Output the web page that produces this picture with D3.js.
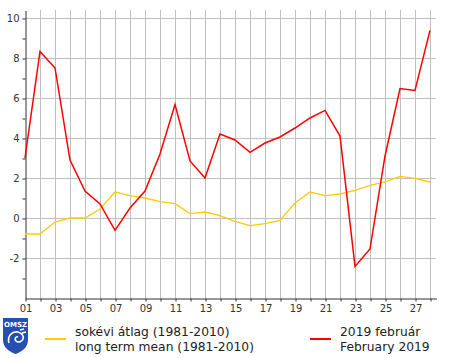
<!DOCTYPE html>
<html>
<head>
<meta charset="utf-8">
<script src="https://cdn.jsdelivr.net/npm/d3@7"></script>
<style>
  body { margin: 0; background: #fff; }
  text { font-family: "DejaVu Sans", Verdana, sans-serif; }
</style>
</head>
<body>
<div id="chart"></div>
<script>
// napok (február)
const days = d3.range(1, 29);
// sokévi átlag (1981-2010)
const meanTemp = [-0.8, -0.8, -0.2, 0.0, 0.0, 0.45, 1.3, 1.12, 1.0, 0.82,
  0.72, 0.22, 0.3, 0.12, -0.17, -0.38, -0.28, -0.12, 0.75, 1.3,
  1.12, 1.2, 1.38, 1.63, 1.8, 2.08, 1.98, 1.8];
// 2019 február
const febTemp = [3.0, 8.33, 7.5, 2.9, 1.35, 0.7, -0.62, 0.5, 1.35, 3.2,
  5.67, 2.85, 2.0, 4.2, 3.9, 3.28, 3.75, 4.05, 4.5, 5.0,
  5.38, 4.1, -2.42, -1.55, 3.1, 6.47, 6.38, 9.38];
const yLabels = [-2, 0, 2, 4, 6, 8, 10];

const width = 460, height = 358;
const svg = d3.select("#chart").append("svg")
  .attr("width", width)
  .attr("height", height);

const x = d3.scaleLinear().domain([1, 28.4]).range([25, 436]);
const y = d3.scaleLinear().domain([-4, 10.4]).range([298, 10]);

// rács
svg.append("g")
  .selectAll("line")
  .data(days.slice(1))
  .enter()
  .append("line")
  .attr("x1", d => x(d) + 0.5).attr("x2", d => x(d) + 0.5)
  .attr("y1", y.range()[1]).attr("y2", y.range()[0])
  .style("stroke", "#c0c0c0");

svg.append("g")
  .selectAll("line")
  .data(yLabels)
  .enter()
  .append("line")
  .attr("x1", x.range()[0]).attr("x2", x.range()[1])
  .attr("y1", d => Math.round(y(d)) + 0.5).attr("y2", d => Math.round(y(d)) + 0.5)
  .style("stroke", "#c0c0c0");

// tengelyek
const xAxis = d3.axisBottom(x)
  .tickValues(days)
  .tickSize(3)
  .tickSizeOuter(0)
  .tickFormat(d => d % 2 === 1 ? d3.format("02d")(d) : "");

const gx = svg.append("g")
  .attr("transform", "translate(0.5," + (Math.round(y(-4)) + 0.5) + ")")
  .call(xAxis);

const yAxis = d3.axisLeft(y)
  .tickValues(d3.range(-3, 11))
  .tickSize(3)
  .tickSizeOuter(0)
  .tickFormat(d => yLabels.includes(d) ? d : "");

const gy = svg.append("g")
  .attr("transform", "translate(" + (x(1) + 0.5) + ",0.5)")
  .call(yAxis);

[gx, gy].forEach(g => {
  g.select(".domain").style("stroke", "#333");
  g.selectAll(".tick line").style("stroke", "#333");
  g.selectAll(".tick text")
    .style("font-family", "DejaVu Sans")
    .style("font-size", "10px")
    .style("fill", "#333");
});
gx.selectAll(".tick text").attr("dy", "0.75em").attr("y", 6);
gy.selectAll(".tick text").attr("x", -6);

// vonalak
const line = d3.line()
  .x((d, i) => x(days[i]))
  .y(d => y(d));

svg.append("path")
  .datum(meanTemp)
  .attr("d", line)
  .style("fill", "none")
  .style("stroke", "#ffcc00")
  .style("stroke-width", 1.3);

svg.append("path")
  .datum(febTemp)
  .attr("d", line)
  .style("fill", "none")
  .style("stroke", "#ff0000")
  .style("stroke-width", 1.5);

// jelmagyarázat
const legend = [
  { color: "#ffcc00", x: 45, lines: ["sokévi átlag (1981-2010)", "long term mean (1981-2010)"] },
  { color: "#ff0000", x: 310, lines: ["2019 február", "February 2019"] }
];

const lg = svg.selectAll(".legend")
  .data(legend)
  .enter()
  .append("g")
  .attr("class", "legend");

lg.append("line")
  .attr("x1", d => d.x).attr("x2", d => d.x + 21)
  .attr("y1", 339).attr("y2", 339)
  .style("stroke", d => d.color)
  .style("stroke-width", 2);

lg.each(function (d) {
  d3.select(this).selectAll("text")
    .data(d.lines)
    .enter()
    .append("text")
    .attr("x", d.x + 30)
    .attr("y", (t, i) => 336 + i * 15)
    .style("font-size", "12.3px")
    .style("fill", "#222")
    .text(t => t);
});

// OMSZ logó
const logo = svg.append("g").attr("transform", "translate(3,318)");
logo.append("path")
  .attr("d", "M0,0 L25,0 L25,22 C25,30 18,34 12.5,36 C7,34 0,30 0,22 Z")
  .style("fill", "#2650b0");
logo.append("text")
  .attr("x", 12.5).attr("y", 9)
  .attr("text-anchor", "middle")
  .style("font-size", "7px")
  .style("font-weight", "bold")
  .style("fill", "#fff")
  .text("OMSZ");
logo.append("path")
  .attr("d", "M6,25 C4,18 9,13 15,14 C19,15 21,18 20,21 C19,24 15,25 13,23 C11,21 13,18 15,19 M17,12 L21,11 M19,15 L23,14")
  .style("fill", "none")
  .style("stroke", "#fff")
  .style("stroke-width", 1.6);
</script>
</body>
</html>
